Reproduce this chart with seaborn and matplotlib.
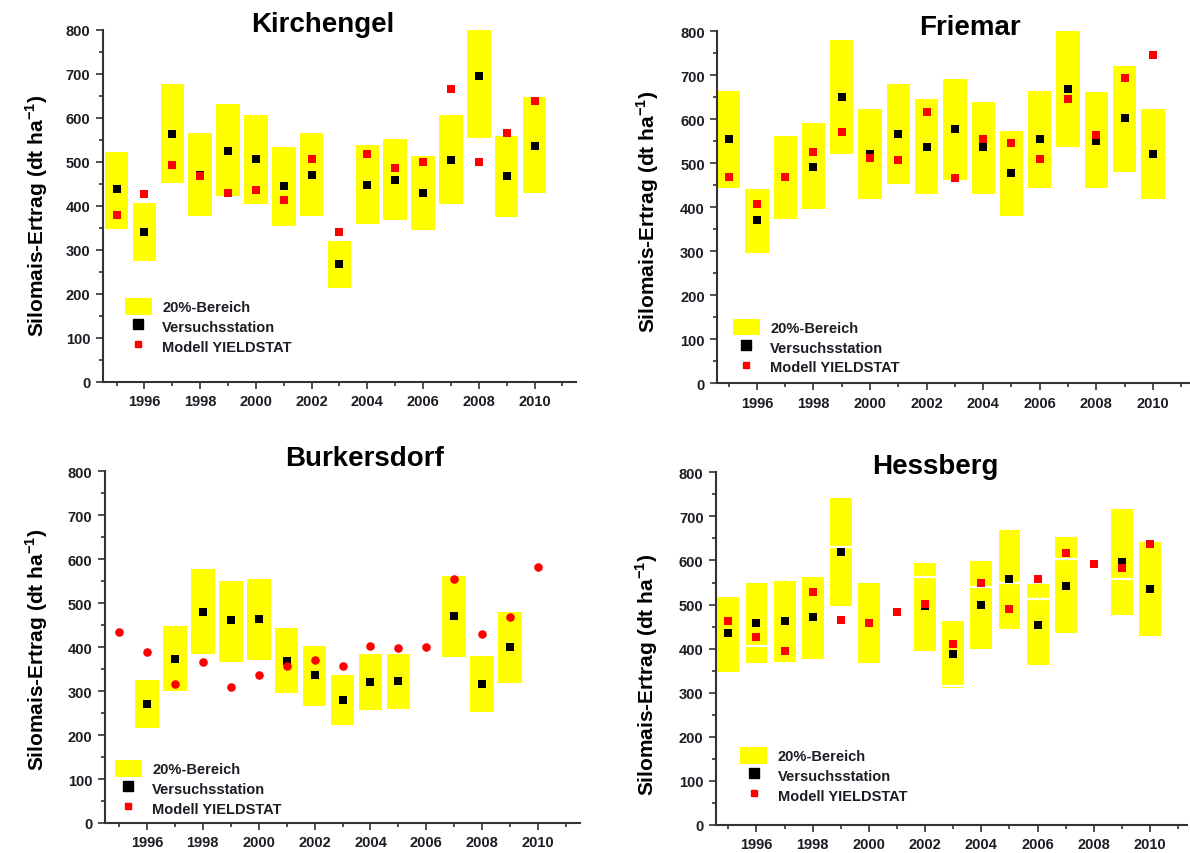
import numpy as np
import seaborn as sns
import matplotlib.pyplot as plt
from matplotlib.patches import Patch
from matplotlib.lines import Line2D
from matplotlib.ticker import MultipleLocator

nan = np.nan
years = [1995, 1996, 1997, 1998, 1999, 2000, 2001, 2002,
         2003, 2004, 2005, 2006, 2007, 2008, 2009, 2010]

# Kirchengel
kir_station = [437, 341, 562, 470, 525, 507, 445, 470, 267, 448, 459, 430, 503, 695, 467, 536]
kir_model = [378, 426, 492, 467, 430, 436, 414, 507, 341, 518, 485, 500, 666, 500, 566, 639]
kir_low = [348, 275, 452, 377, 421, 403, 355, 377, 212, 359, 367, 345, 403, 555, 374, 430]
kir_high = [521, 407, 676, 566, 632, 606, 533, 566, 319, 539, 551, 514, 606, 801, 558, 646]

# Friemar
fri_station = [554, 370, 469, 492, 650, 521, 565, 536, 577, 536, 477, 554, 669, 550, 602, 521]
fri_model = [469, 406, 469, 525, 570, 511, 506, 617, 466, 554, 546, 510, 646, 564, 694, 746]
fri_low = [443, 296, 373, 396, 521, 418, 452, 429, 461, 429, 380, 443, 536, 443, 480, 418]
fri_high = [664, 442, 561, 590, 779, 623, 679, 645, 690, 639, 572, 664, 800, 661, 720, 623]

# Burkersdorf
bur_station = [nan, 271, 372, 481, 461, 464, 368, 336, 280, 320, 322, nan, 470, 317, 400, nan]
bur_model = [435, 390, 317, 367, 309, 337, 356, 371, 357, 402, 397, 400, 556, 431, 468, 583]
bur_low = [nan, 215, 300, 384, 366, 370, 296, 267, 223, 256, 259, nan, 378, 252, 318, nan]
bur_high = [nan, 326, 447, 577, 551, 555, 444, 403, 337, 384, 384, nan, 562, 381, 481, nan]

# Hessberg
hes_station = [436, 458, 462, 471, 620, 458, nan, 496, 388, 499, 558, 454, 543, nan, 596, 535]
hes_model = [462, 426, 394, 529, 466, 458, 484, 501, 411, 550, 491, 558, 617, 591, 584, 638]
hes_low = [348, 367, 370, 377, 496, 367, nan, 395, 311, 399, 444, 362, 436, nan, 477, 429]
hes_high = [517, 550, 554, 562, 741, 550, nan, 595, 462, 598, 668, 547, 653, nan, 716, 643]
hes_split = [nan, 405, nan, nan, 630, nan, nan, 563, 316, 539, 549, 513, 603, nan, 557, nan]

labels = ["20%-Bereich", "Versuchsstation", "Modell YIELDSTAT"]
ylabel = r"Silomais-Ertrag (dt ha$^{\mathbf{-1}}$)"

sns.set_style("ticks")
plt.rcParams["font.family"] = ["Liberation Sans", "DejaVu Sans"]
plt.rcParams["mathtext.fontset"] = "custom"
plt.rcParams["mathtext.rm"] = "Liberation Sans"
plt.rcParams["mathtext.bf"] = "Liberation Sans:bold"

W, H = 1190, 854
fig = plt.figure(figsize=(W / 100, H / 100), dpi=100)
ink = "#1c1c24"


def px_rect(left, top, right, bottom):
    return [left / W, 1 - bottom / H, (right - left) / W, (bottom - top) / H]


def panel(rect, xlim, title, title_xy, ylab_xy, station, model, low, high,
          leg_anchor, width=0.85, split=None, model_marker="s", model_size=30):
    ax = fig.add_axes(rect)
    ax.bar(years, np.subtract(high, low), bottom=low, width=width,
           color="#ffff00", linewidth=0, zorder=1)
    if split is not None:
        for yr, s in zip(years, split):
            if not np.isnan(s):
                ax.plot([yr - width / 2, yr + width / 2], [s, s], color="white",
                        lw=1.6, zorder=1.5, solid_capstyle="butt")
    sns.scatterplot(x=years, y=station, ax=ax, marker="s", color="black",
                    s=30, linewidth=0, zorder=3)
    sns.scatterplot(x=years, y=model, ax=ax, marker=model_marker, color="#ff0000",
                    s=model_size, linewidth=0, zorder=4)
    ax.set_xlim(*xlim)
    ax.set_ylim(0, 800)
    ax.xaxis.set_major_locator(MultipleLocator(2))
    ax.xaxis.set_minor_locator(MultipleLocator(1))
    ax.yaxis.set_major_locator(MultipleLocator(100))
    ax.yaxis.set_minor_locator(MultipleLocator(50))
    ax.tick_params(which="major", direction="out", length=5, width=1.2,
                   color="#333333", labelsize=10.5, labelcolor=ink, pad=4)
    ax.tick_params(which="minor", direction="out", length=3, width=1.2, color="#333333")
    for lab in ax.get_xticklabels() + ax.get_yticklabels():
        lab.set_fontweight("bold")
    sns.despine(ax=ax)
    for side in ["left", "bottom"]:
        ax.spines[side].set_linewidth(1.5)
        ax.spines[side].set_color("#333333")

    handles = [Patch(facecolor="#ffff00", edgecolor="none"),
               Line2D([], [], marker="s", color="black", linestyle="none", markersize=6.5),
               Line2D([], [], marker="s", color="#ff0000", linestyle="none", markersize=5)]
    ax.legend(handles, labels, loc="upper left", bbox_to_anchor=leg_anchor,
              frameon=False, borderpad=0, borderaxespad=0, handlelength=1.85,
              handleheight=1.4, labelspacing=0.2, handletextpad=0.7,
              prop={"weight": "bold", "size": 10.5}, labelcolor=ink)

    fig.text(title_xy[0] / W, 1 - title_xy[1] / H, title, ha="center", va="baseline",
             fontsize=20, fontweight="bold", color="black")
    fig.text(ylab_xy[0] / W, 1 - ylab_xy[1] / H, ylabel, rotation=90, ha="center",
             va="center", fontsize=15, fontweight="bold", color="black")
    return ax


panel(px_rect(102.7, 30.7, 576.3, 382.7), (1994.5, 2011.5), "Kirchengel",
      (323, 31.5), (37, 216), kir_station, kir_model, kir_low, kir_high,
      (0.047, 0.238))
panel(px_rect(717.3, 32, 1189.7, 384), (1994.6, 2011.3), "Friemar",
      (970, 35), (648, 212), fri_station, fri_model, fri_low, fri_high,
      (0.033, 0.183), width=0.82)
panel(px_rect(105, 472.3, 580, 824), (1994.5, 2011.5), "Burkersdorf",
      (365, 466), (37, 650), bur_station, bur_model, bur_low, bur_high,
      (0.021, 0.179), model_marker="o", model_size=38)
panel(px_rect(716, 473.3, 1186.6, 826), (1994.56, 2011.3), "Hessberg",
      (935, 474), (647, 675), hes_station, hes_model, hes_low, hes_high,
      (0.052, 0.221), width=0.78, split=hes_split)

fig.savefig("out.png", dpi=100)
